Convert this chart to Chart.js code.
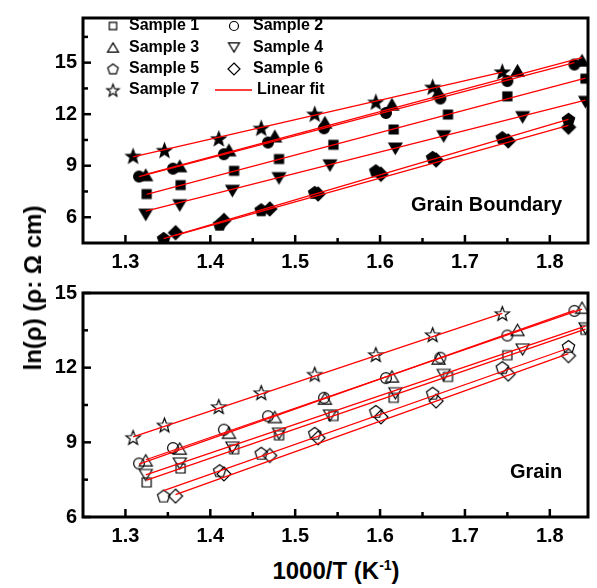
<!DOCTYPE html>
<html>
<head>
<meta charset="utf-8">
<script src="https://cdn.jsdelivr.net/npm/chart.js@4.4.1/dist/chart.umd.min.js"></script>
<style>
  html, body { margin: 0; padding: 0; background: #fff; }
  #wrap { position: relative; width: 597px; height: 588px; overflow: hidden; font-family: 'Liberation Sans', Arial, sans-serif; }
  canvas { position: absolute; left: 0; }
  #gbCanvas { top: 0; }
  #grainCanvas { top: 275px; }
  #yTitle {
    position: absolute; left: 33px; top: 288px; white-space: nowrap;
    transform: translate(-50%, -50%) rotate(-90deg);
    font-weight: bold; font-size: 24px; color: #000;
  }
  #xTitle {
    position: absolute; left: 336px; top: 571px; white-space: nowrap;
    transform: translate(-50%, -50%);
    font-weight: bold; font-size: 24px; color: #000; line-height: 24px;
  }
  #xTitle sup { font-size: 14px; vertical-align: 9px; line-height: 0; }
</style>
</head>
<body>
<div id="wrap">
  <canvas id="gbCanvas" width="597" height="275"></canvas>
  <canvas id="grainCanvas" width="597" height="280"></canvas>
  <div id="yTitle">ln(ρ) (ρ: Ω cm)</div>
  <div id="xTitle">1000/T (K<sup>-1</sup>)</div>
</div>
<script>
'use strict';

// samples and their marker shapes
const sampleNames = ['Sample 1', 'Sample 2', 'Sample 3', 'Sample 4', 'Sample 5', 'Sample 6', 'Sample 7'];
const shapes = ['square', 'circle', 'triUp', 'triDown', 'pentagon', 'diamond', 'star'];

// 1000/T for each sample (K^-1)
const invT = [
  [1.325, 1.365, 1.428, 1.481, 1.545, 1.616, 1.680, 1.750, 1.842],
  [1.316, 1.356, 1.416, 1.468, 1.534, 1.607, 1.671, 1.750, 1.829],
  [1.324, 1.364, 1.422, 1.476, 1.535, 1.614, 1.669, 1.762, 1.838],
  [1.324, 1.364, 1.426, 1.481, 1.541, 1.618, 1.675, 1.768, 1.842],
  [1.345, 1.411, 1.460, 1.523, 1.595, 1.662, 1.744, 1.822],
  [1.359, 1.416, 1.470, 1.527, 1.601, 1.666, 1.751, 1.822],
  [1.309, 1.346, 1.410, 1.460, 1.523, 1.595, 1.662, 1.744]
];

// ln(rho), grain boundary
const lnRhoGB = [
  [7.35, 7.87, 8.70, 9.39, 10.22, 11.11, 11.98, 13.04, 14.07],
  [8.37, 8.83, 9.67, 10.35, 11.18, 12.07, 12.91, 13.93, 14.89],
  [8.46, 8.98, 9.91, 10.72, 11.52, 12.57, 13.28, 14.54, 15.13],
  [6.15, 6.70, 7.54, 8.28, 9.02, 10.00, 10.72, 11.83, 12.72],
  [4.76, 5.59, 6.43, 7.44, 8.70, 9.48, 10.63, 11.70],
  [5.10, 5.81, 6.48, 7.35, 8.50, 9.33, 10.44, 11.24],
  [9.57, 9.91, 10.59, 11.20, 12.02, 12.72, 13.59, 14.48]
];

// ln(rho), grain
const lnRhoGrain = [
  [7.39, 7.95, 8.72, 9.28, 10.06, 10.79, 11.63, 12.50, 13.52],
  [8.15, 8.77, 9.51, 10.05, 10.79, 11.58, 12.40, 13.29, 14.28],
  [8.28, 8.75, 9.39, 10.02, 10.76, 11.65, 12.37, 13.52, 14.41],
  [7.69, 8.15, 8.79, 9.35, 10.08, 10.97, 11.71, 12.73, 13.58],
  [6.84, 7.86, 8.56, 9.36, 10.24, 10.97, 12.00, 12.85],
  [6.84, 7.73, 8.47, 9.18, 10.02, 10.66, 11.74, 12.48],
  [9.20, 9.70, 10.44, 11.00, 11.74, 12.53, 13.33, 14.18]
];

// linear fit end points [x0, y0, x1, y1]
const fitGB = [
  [1.325, 7.33, 1.842, 14.10],
  [1.316, 8.37, 1.829, 15.00],
  [1.324, 8.50, 1.838, 15.30],
  [1.324, 6.35, 1.842, 12.82],
  [1.345, 4.75, 1.822, 11.70],
  [1.359, 4.95, 1.822, 11.35],
  [1.309, 9.52, 1.744, 14.45]
];
const fitGrain = [
  [1.325, 7.48, 1.842, 13.55],
  [1.316, 8.12, 1.829, 14.30],
  [1.324, 8.30, 1.838, 14.35],
  [1.324, 7.69, 1.842, 13.67],
  [1.345, 7.06, 1.822, 12.78],
  [1.359, 6.90, 1.822, 12.56],
  [1.309, 9.22, 1.744, 14.18]
];

// ticks
const xTicks = [1.3, 1.4, 1.5, 1.6, 1.7, 1.8];
const xMinor = [1.35, 1.45, 1.55, 1.65, 1.75];
const yTicks = [6, 9, 12, 15];
const gbMinor = [7.5, 10.5, 13.5, 16.5];
const grainMinor = [7.5, 10.5, 13.5];

const FONT = "'Liberation Sans', Arial, sans-serif";
const RED = 'rgb(255, 0, 0)';

// small canvas markers, centred in their box
function makeMarker(shape, filled, s) {
  let size = Math.ceil(s) + 4;
  let c = document.createElement('canvas');
  c.width = size; c.height = size;
  let g = c.getContext('2d');
  let m = size / 2, r = s / 2;
  g.beginPath();
  if (shape === 'square') {
    let h = r * 0.82;
    g.rect(m - h, m - h, 2 * h, 2 * h);
  } else if (shape === 'circle') {
    g.arc(m, m, r * 0.9, 0, Math.PI * 2);
  } else if (shape === 'triUp' || shape === 'triDown') {
    let d = shape === 'triUp' ? 1 : -1;
    let hh = r * 0.85;
    g.moveTo(m, m - d * hh);
    g.lineTo(m + r, m + d * hh);
    g.lineTo(m - r, m + d * hh);
    g.closePath();
  } else if (shape === 'pentagon') {
    for (let k = 0; k < 5; k++) {
      let a = -Math.PI / 2 + k * 2 * Math.PI / 5;
      let px = m + r * Math.cos(a), py = m + 0.5 + r * Math.sin(a);
      k === 0 ? g.moveTo(px, py) : g.lineTo(px, py);
    }
    g.closePath();
  } else if (shape === 'diamond') {
    g.moveTo(m, m - r); g.lineTo(m + r, m); g.lineTo(m, m + r); g.lineTo(m - r, m);
    g.closePath();
  } else if (shape === 'star') {
    for (let k = 0; k < 10; k++) {
      let a = -Math.PI / 2 + k * Math.PI / 5;
      let rr = k % 2 === 0 ? r : r * 0.42;
      let px = m + rr * Math.cos(a), py = m + 0.8 + rr * Math.sin(a);
      k === 0 ? g.moveTo(px, py) : g.lineTo(px, py);
    }
    g.closePath();
  }
  g.lineWidth = 1.2;
  g.strokeStyle = '#000';
  g.fillStyle = '#000';
  if (filled) g.fill();
  g.stroke();
  return c;
}

const markerSize = { square: 11, circle: 12, triUp: 13, triDown: 13, pentagon: 13, diamond: 14, star: 15 };

function buildDatasets(yArrays, fits, filled) {
  let sets = [];
  // fit lines first so they end up drawn over the markers
  fits.forEach(f => {
    sets.push({
      data: [{ x: f[0], y: f[1] }, { x: f[2], y: f[3] }],
      showLine: true,
      borderColor: RED,
      borderWidth: 1.3,
      pointRadius: 0,
      fill: false
    });
  });
  yArrays.forEach((ys, i) => {
    sets.push({
      data: ys.map((v, j) => ({ x: invT[i][j], y: v })),
      showLine: false,
      pointStyle: makeMarker(shapes[i], filled, markerSize[shapes[i]]),
      pointRadius: 6,
      clip: 0
    });
  });
  return sets;
}

function line(ctx, x0, y0, x1, y1) {
  ctx.beginPath(); ctx.moveTo(x0, y0); ctx.lineTo(x1, y1); ctx.stroke();
}

// frame, inward ticks, panel label and legend
const framePlugin = {
  id: 'frame',
  afterDatasetsDraw(chart, args, opts) {
    const ctx = chart.ctx;
    const a = chart.chartArea;
    const x = chart.scales.x, y = chart.scales.y;
    ctx.save();
    ctx.strokeStyle = '#000';
    ctx.lineWidth = 2.5;
    xTicks.forEach(v => { let p = x.getPixelForValue(v); line(ctx, p, a.bottom, p, a.bottom - 8); });
    xMinor.forEach(v => { let p = x.getPixelForValue(v); line(ctx, p, a.bottom, p, a.bottom - 5); });
    yTicks.forEach(v => { let p = y.getPixelForValue(v); line(ctx, a.left, p, a.left + 8, p); });
    opts.minor.forEach(v => { let p = y.getPixelForValue(v); line(ctx, a.left, p, a.left + 5, p); });
    ctx.lineWidth = 3;
    ctx.strokeRect(a.left, a.top, a.right - a.left, a.bottom - a.top);

    ctx.fillStyle = '#000';
    ctx.textBaseline = 'middle';
    ctx.textAlign = 'left';
    ctx.font = 'bold 20px ' + FONT;
    ctx.fillText(opts.label, opts.labelX, opts.labelY);

    if (opts.legend) {
      const markerX = [113, 234], textX = [129, 253], rowY = [26, 47.5, 69, 90];
      ctx.font = 'bold 16px ' + FONT;
      sampleNames.forEach((name, i) => {
        let col = i % 2, row = Math.floor(i / 2);
        let mk = makeMarker(shapes[i], false, markerSize[shapes[i]] - 2);
        ctx.drawImage(mk, markerX[col] - mk.width / 2, rowY[row] - mk.height / 2);
        ctx.fillText(name, textX[col], rowY[row]);
      });
      ctx.strokeStyle = RED;
      ctx.lineWidth = 1.5;
      line(ctx, 215, rowY[3], 252, rowY[3]);
      ctx.fillText('Linear fit', 257, rowY[3]);
    }
    ctx.restore();
  }
};

function makeOptions(yMin, yMax, axisHeight, frameOpts) {
  return {
    responsive: false,
    animation: false,
    events: [],
    layout: { padding: { top: 7, right: 9, left: 0, bottom: 0 } },
    plugins: {
      legend: { display: false },
      tooltip: { enabled: false },
      frame: frameOpts
    },
    scales: {
      x: {
        type: 'linear',
        min: 1.25,
        max: 1.845,
        afterBuildTicks: s => { s.ticks = xTicks.map(v => ({ value: v })); },
        afterFit: s => { s.height = axisHeight; },
        grid: { display: false, drawTicks: false },
        border: { display: false },
        ticks: {
          color: '#000',
          padding: 7,
          font: { family: FONT, size: 20, weight: 'bold' },
          callback: v => v.toFixed(1)
        }
      },
      y: {
        type: 'linear',
        min: yMin,
        max: yMax,
        afterBuildTicks: s => { s.ticks = yTicks.map(v => ({ value: v })); },
        afterFit: s => { s.width = 83; },
        grid: { display: false, drawTicks: false },
        border: { display: false },
        ticks: {
          color: '#000',
          padding: 6,
          font: { family: FONT, size: 20, weight: 'bold' },
          callback: v => String(v)
        }
      }
    }
  };
}

new Chart(document.getElementById('gbCanvas'), {
  type: 'scatter',
  data: { datasets: buildDatasets(lnRhoGB, fitGB, true) },
  options: makeOptions(4.5, 17.6, 32, {
    minor: gbMinor, label: 'Grain Boundary', labelX: 411, labelY: 205, legend: true
  }),
  plugins: [framePlugin]
});

new Chart(document.getElementById('grainCanvas'), {
  type: 'scatter',
  data: { datasets: buildDatasets(lnRhoGrain, fitGrain, false) },
  options: makeOptions(6, 15, 38, {
    minor: grainMinor, label: 'Grain', labelX: 510, labelY: 197, legend: false
  }),
  plugins: [framePlugin]
});
</script>
</body>
</html>
